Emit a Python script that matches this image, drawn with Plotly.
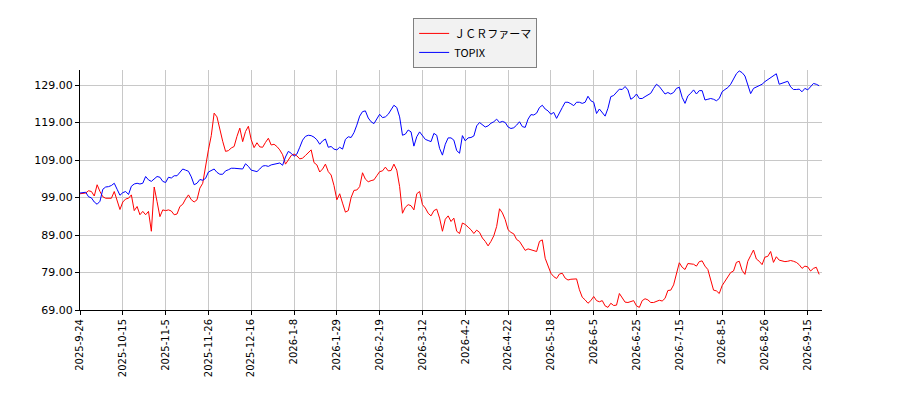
import plotly.graph_objects as go

tick_labels = ["2025-9-24", "2025-10-15", "2025-11-5", "2025-11-26", "2025-12-16",
               "2026-1-8", "2026-1-29", "2026-2-19", "2026-3-12", "2026-4-2",
               "2026-4-22", "2026-5-18", "2026-6-5", "2026-6-25", "2026-7-15",
               "2026-8-5", "2026-8-26", "2026-9-15"]

jcr = [
    100.0, 100.0, 100.2, 100.8, 100.6, 99.4, 102.4, 100.6, 99.2, 98.8, 98.8, 98.8, 100.6, 98.4, 95.8, 97.8,
    98.6, 98.8, 99.7, 95.5, 96.6, 94.4, 95.3, 94.4, 95.3, 90.0, 101.8, 97.9, 93.9, 95.7, 95.5,
    95.7, 95.4, 94.4, 94.6, 96.6, 97.2, 98.6, 99.7, 98.4, 97.8, 98.4, 101.5, 102.8, 107.5, 111.7,
    115.5, 121.5, 120.5, 117.0, 114.0, 111.3, 111.5, 112.2, 112.6, 115.3, 117.5, 113.9, 116.6, 118.0, 114.4,
    112.3, 113.6, 112.5, 112.4, 113.7, 114.8, 113.0, 113.2, 112.6, 111.7, 110.4, 107.9, 109.0, 110.2, 110.6,
    110.1, 109.3, 109.5, 110.2, 111.1, 111.7, 108.3, 107.7, 105.8, 106.6, 107.9, 105.9, 105.0, 102.2,
    98.4, 100.0, 97.5, 95.1, 95.5, 99.0, 100.9, 101.0, 101.9, 105.6, 103.9, 103.2, 103.5, 103.7, 104.8,
    105.9, 106.1, 107.1, 106.1, 106.2, 107.9, 106.3, 101.9, 94.8, 96.4, 97.1, 96.8, 95.7, 100.0, 100.6,
    97.1, 96.2, 94.8, 94.1, 95.5, 95.9, 93.5, 90.0, 93.2, 94.1, 92.6, 93.5, 90.0, 89.4, 92.2, 91.8, 91.1,
    90.4, 89.4, 90.3, 89.7, 88.2, 87.3, 86.1, 87.3, 88.8, 91.3, 96.0, 94.9, 93.1, 90.4, 89.7,
    89.3, 87.8, 87.3, 86.0, 84.9, 85.3, 85.0, 84.9, 84.6, 87.3, 87.7, 82.8, 80.6, 78.8, 77.9,
    77.4, 78.6, 78.8, 77.5, 77.0, 77.2, 77.2, 77.3, 74.4, 72.4, 71.7, 70.8, 71.5, 72.6,
    71.5, 71.2, 71.5, 70.1, 69.7, 70.8, 70.2, 70.3, 73.4, 72.1, 71.1, 71.0, 71.3, 71.5, 70.1,
    69.7, 71.5, 72.0, 71.7, 71.0, 71.0, 71.3, 71.6, 71.4, 72.1, 74.2, 74.3, 75.7, 78.3, 81.6,
    80.4, 79.8, 81.4, 81.4, 81.2, 80.7, 81.9, 82.1, 80.7, 79.8, 77.0, 74.3, 74.1, 73.4, 75.5,
    76.7, 77.7, 79.0, 79.4, 81.7, 82.0, 79.6, 78.5, 82.0, 83.5, 85.0, 82.6, 82.0, 81.1, 83.1,
    83.3, 84.6, 81.7, 83.2, 82.3, 82.1, 81.9, 82.0, 82.2, 82.0, 81.7, 81.1, 80.1, 80.7, 80.5,
    79.4, 80.1, 80.4, 78.5,
]

topix = [
    100.2, 100.4, 100.4, 99.2, 98.9, 97.8, 97.2, 98.0, 101.2, 101.8, 101.9, 102.2, 102.8, 101.2, 99.6, 100.3,
    100.6, 99.8, 102.0, 102.6, 102.8, 102.6, 102.8, 104.6, 103.7, 103.3, 103.9, 104.6, 104.4, 103.3, 103.0,
    104.4, 104.2, 104.8, 104.8, 105.8, 106.6, 106.3, 106.0, 104.5, 102.4, 102.8, 103.8, 103.6, 104.1, 105.8,
    106.3, 106.6, 105.7, 105.2, 105.2, 106.1, 106.4, 106.8, 106.8, 106.8, 106.6, 106.6, 108.0, 107.3, 106.3,
    106.1, 105.9, 106.6, 107.4, 107.5, 107.3, 107.7, 107.9, 108.0, 108.2, 107.6, 109.8, 111.3, 110.8, 110.0,
    110.6, 112.4, 114.3, 115.3, 115.6, 115.5, 115.1, 114.4, 113.2, 114.1, 114.6, 112.4, 112.6, 111.9, 111.7, 112.4,
    111.9, 114.5, 115.2, 115.0, 116.3, 118.3, 120.7, 121.9, 122.1, 120.2,
    119.2, 118.7, 119.8, 121.2, 120.3, 120.5, 121.2, 122.3, 123.6, 123.0,
    120.5, 115.6, 115.9, 117.0, 116.5, 112.7, 115.2, 116.5, 115.4, 114.5,
    114.2, 113.9, 116.1, 115.6, 112.1, 110.3, 113.2, 114.9, 114.9, 114.3,
    111.5, 110.8, 115.5, 114.1, 114.9,
    115.0, 115.4, 118.1, 119.0, 118.3, 117.8, 118.1, 118.8, 119.2, 119.9,
    119.0, 119.3, 119.0, 117.8, 117.4, 117.6, 118.3, 119.2, 117.9, 117.7,
    119.9, 121.1, 121.0, 121.5, 123.0, 123.6, 122.6, 122.1, 121.2, 121.7,
    120.1, 121.7, 123.0, 124.4, 124.4, 124.0, 123.5, 124.4, 124.4, 124.1,
    124.4, 126.0, 124.8, 124.4,
    121.4, 122.6, 121.6, 120.7, 122.8, 125.9, 126.2, 127.0, 127.9, 127.8,
    128.6, 127.7, 125.2, 125.7, 126.6, 125.4, 125.4, 125.9, 126.4, 126.8,
    128.1, 129.2, 128.6, 127.5, 126.6, 127.0, 126.6, 127.0, 128.1, 128.4,
    125.7, 124.1, 126.1, 126.8, 127.7, 126.6, 127.5, 127.5, 125.0, 125.2,
    125.4, 125.2, 124.8, 125.4, 127.2,
    127.8, 128.3, 129.2, 130.8, 132.0, 132.75, 132.3, 131.4, 129.0, 126.7,
    128.1, 128.5, 128.7, 129.2, 129.9, 130.4, 131.0, 131.3, 132.0, 129.2,
    129.4, 129.6, 130.0, 128.5, 127.8, 127.8, 127.9, 127.2, 128.1, 127.7,
    128.5, 129.4, 129.2, 128.8,
]

y_ticks = [69, 79, 89, 99, 109, 119, 129]
tick_step = 15

fig = go.Figure()
fig.add_trace(go.Scatter(x=list(range(len(jcr))), y=jcr, mode="lines", name="ＪＣＲファーマ",
                         line=dict(color="#ff0000", width=1)))
fig.add_trace(go.Scatter(x=list(range(len(topix))), y=topix, mode="lines", name="TOPIX",
                         line=dict(color="#0000ff", width=1)))

fig.update_layout(
    width=900, height=400,
    margin=dict(l=72, r=86, t=62, b=98, autoexpand=False),
    paper_bgcolor="white", plot_bgcolor="white",
    font=dict(family="DejaVu Sans", color="black", size=11),
    showlegend=True,
    legend=dict(x=0.449, y=1.217, xanchor="left", yanchor="top",
                bgcolor="#f2f2f2", bordercolor="#808080", borderwidth=1,
                font=dict(family="Noto Sans CJK JP", size=11, color="black"),
                itemwidth=30, tracegroupgap=0),
)

fig.update_xaxes(
    range=[0, 260],
    tickmode="array",
    tickvals=[i * tick_step for i in range(len(tick_labels))],
    ticktext=tick_labels,
    tickangle=-90,
    tickfont=dict(size=10),
    showgrid=True, gridcolor="#c8c8c8", gridwidth=1,
    showline=True, linecolor="black", linewidth=1,
    ticks="outside", ticklen=4, tickcolor="black",
    zeroline=False,
)
fig.update_yaxes(
    range=[69, 133],
    tickmode="array",
    tickvals=y_ticks,
    ticktext=[f"{v:.2f}" for v in y_ticks],
    tickfont=dict(size=11),
    showgrid=True, gridcolor="#c8c8c8", gridwidth=1,
    showline=True, linecolor="black", linewidth=1,
    ticks="outside", ticklen=4, tickcolor="black",
    zeroline=False,
)

fig.write_html("out.html")
